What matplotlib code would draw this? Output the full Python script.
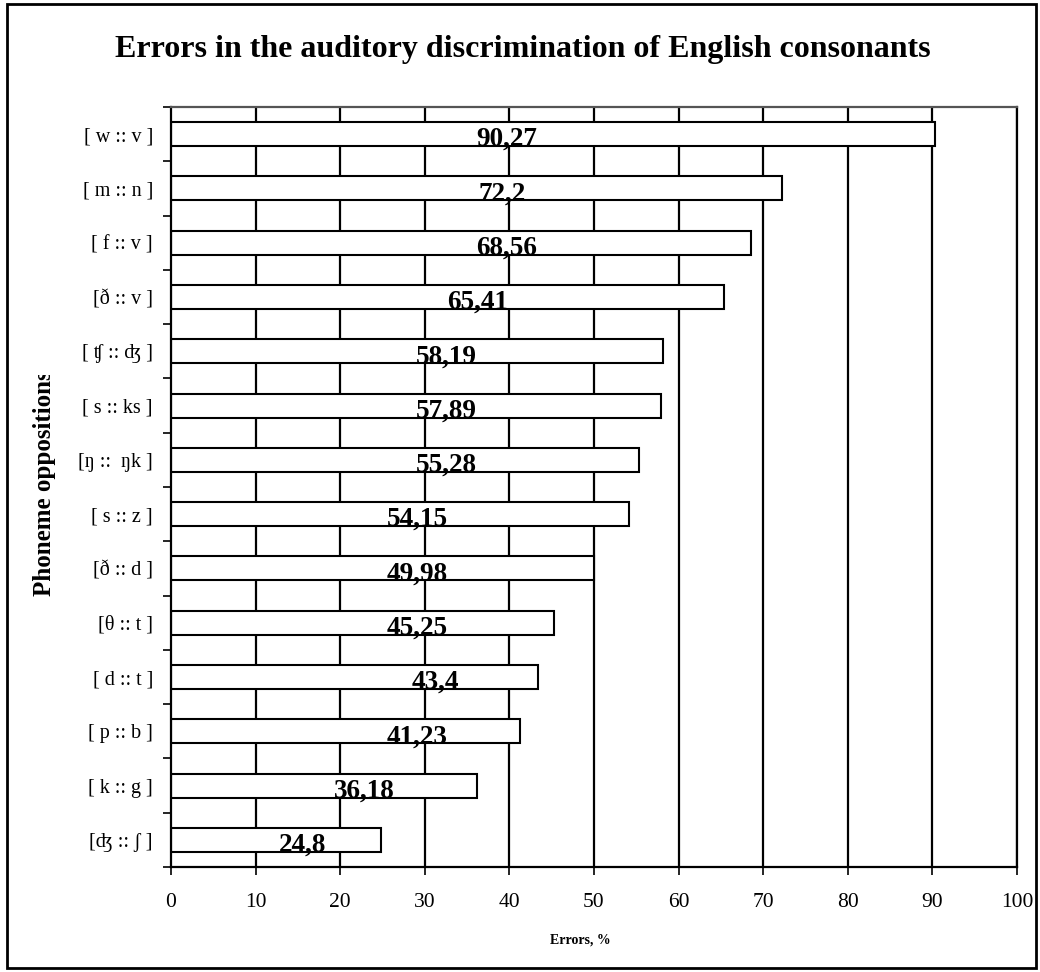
import matplotlib
matplotlib.use("Agg")
import matplotlib.pyplot as plt
import numpy as np
from matplotlib.patches import Rectangle
from matplotlib.transforms import Bbox

plt.rcParams['font.family'] = ['Liberation Serif', 'DejaVu Serif']

categories = ["[ w :: v ]", "[ m :: n ]", "[ f :: v ]", "[ð :: v ]", "[ ʧ :: ʤ ]",
              "[ s :: ks ]", "[ŋ ::  ŋk ]", "[ s :: z ]", "[ð :: d ]", "[θ :: t ]",
              "[ d :: t ]", "[ p :: b ]", "[ k :: g ]", "[ʤ :: ʃ ]"]
errors = [90.27, 72.2, 68.56, 65.41, 58.19, 57.89, 55.28, 54.15, 49.98, 45.25,
          43.4, 41.23, 36.18, 24.8]
value_labels = ["90,27", "72,2", "68,56", "65,41", "58,19", "57,89", "55,28",
                "54,15", "49,98", "45,25", "43,4", "41,23", "36,18", "24,8"]
x_ticks = list(range(0, 101, 10))

# horizontal anchor (in axis units) used for each value label
label_anchor = [39.7, 39.1, 39.7, 36.3, 32.6, 32.6, 32.6, 29.1, 29.1, 29.1,
                31.2, 29.1, 22.9, 15.5]

fig = plt.figure(figsize=(10.4, 9.72), dpi=100)
ax = fig.add_axes([171/1040, 1-867/972, (1017-171)/1040, (867-107)/972])

n = len(categories)
y = np.arange(n)
ax.set_xlim(0, 100)
ax.set_ylim(n - 0.5, -0.5)

ax.set_axisbelow(True)
for xv in x_ticks[1:]:
    ax.axvline(xv, color='black', lw=1.6, zorder=0)

ax.barh(y, errors, height=0.44, color='white', edgecolor='black', linewidth=1.5, zorder=2)

for yi, lab, xa in zip(y, value_labels, label_anchor):
    ax.text(xa, yi + 0.1, lab, ha='center', va='center', fontsize=19.5,
            fontweight='bold', zorder=3)

ax.set_xticks(x_ticks)
ax.set_xticklabels([str(v) for v in x_ticks], fontsize=15.5)
ax.tick_params(axis='x', direction='out', length=6, width=1.2, pad=13)

ax.set_yticks(y)
ax.set_yticklabels(categories, fontsize=14.5)
ax.tick_params(axis='y', which='major', length=0, pad=13)
ax.set_yticks(np.arange(n + 1) - 0.5, minor=True)
ax.tick_params(axis='y', which='minor', direction='out', length=6, width=1.2)

for side in ['left', 'bottom', 'right', 'top']:
    ax.spines[side].set_linewidth(1.6)
    ax.spines[side].set_color('black')
ax.spines['top'].set_color('#555555')

fig.text(523/1040, 1 - 50/972, "Errors in the auditory discrimination of English consonants",
         ha='center', va='center', fontsize=23, fontweight='bold')
fig.text(580/1040, 1 - 940/972, "Errors, %", ha='center', va='center',
         fontsize=10, fontweight='bold')
ylab = fig.text(45/1040, 1 - 483.5/972, "Phoneme oppositions", ha='center', va='center',
                rotation=90, fontsize=18, fontweight='bold')
ylab.set_clip_box(Bbox([[0, 0], [1040, 972 - 375]]))
ylab.set_clip_on(True)

fig.add_artist(Rectangle((7/1040, 4/972), (1036-7)/1040, (968-4)/972,
                         transform=fig.transFigure, fill=False, edgecolor='black', lw=2))

fig.savefig("out.png", dpi=100, facecolor='white')
